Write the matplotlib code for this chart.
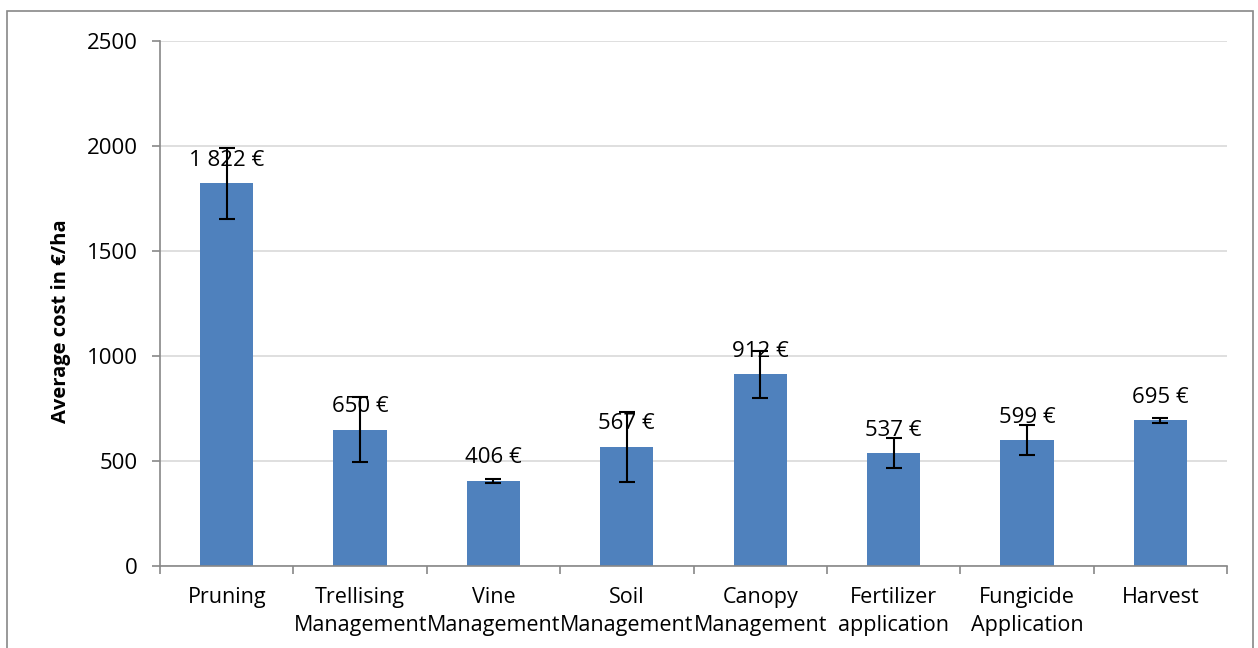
import matplotlib.pyplot as plt
import numpy as np
from matplotlib.patches import Rectangle

plt.rcParams['font.family'] = ['Open Sans', 'DejaVu Sans']

categories = ["Pruning", "Trellising\nManagement", "Vine\nManagement", "Soil\nManagement",
              "Canopy\nManagement", "Fertilizer\napplication", "Fungicide\nApplication", "Harvest"]
costs = [1822, 650, 406, 567, 912, 537, 599, 695]
errors = [170, 155, 10, 165, 110, 72, 72, 12]
value_labels = ["1 822 €", "650 €", "406 €", "567 €", "912 €", "537 €", "599 €", "695 €"]

fig = plt.figure(figsize=(12.58, 6.48), dpi=100)
ax = fig.add_axes([160 / 1258, (648 - 566) / 648, (1227 - 160) / 1258, (566 - 41) / 648])

# outer frame around the chart area
fig.patches.append(Rectangle((7 / 1258, -0.01), (1253 - 7) / 1258, (648 - 11) / 648 + 0.01,
                             transform=fig.transFigure, fill=False, edgecolor='#888888', lw=1.2))

x = np.arange(len(categories))
ax.bar(x, costs, width=0.4, color='#4F81BD', zorder=2)
ax.errorbar(x, costs, yerr=errors, fmt='none', ecolor='black', elinewidth=1.5,
            capsize=6, capthick=1.5, zorder=3)

for xi, c, lab in zip(x, costs, value_labels):
    ax.annotate(lab, (xi, c), xytext=(0, 9), textcoords='offset points',
                ha='center', va='bottom', fontsize=16, zorder=4)

ax.set_xlim(-0.5, len(categories) - 0.5)
ax.set_ylim(0, 2500)
ax.set_yticks(np.arange(0, 2501, 500))
ax.yaxis.grid(True, color='#d9d9d9', lw=1.2, zorder=0)
ax.set_axisbelow(True)

ax.set_xticks(x)
ax.set_xticklabels(categories, fontsize=15.5, linespacing=1.45)
ax.set_xticks(np.arange(-0.5, len(categories), 1), minor=True)
ax.tick_params(axis='x', which='major', length=0, pad=15)
ax.tick_params(axis='x', which='minor', length=6, color='#888888', width=1.2)
ax.tick_params(axis='y', labelsize=16, length=6, color='#888888', width=1.2, pad=10)

for s in ['top', 'right']:
    ax.spines[s].set_visible(False)
for s in ['left', 'bottom']:
    ax.spines[s].set_color('#888888')
    ax.spines[s].set_linewidth(1.2)

ax.set_ylabel("Average cost in €/ha", fontsize=14.5, fontweight='bold')
ax.yaxis.set_label_coords(-0.083, 0.467)

fig.savefig('out.png', dpi=100)
